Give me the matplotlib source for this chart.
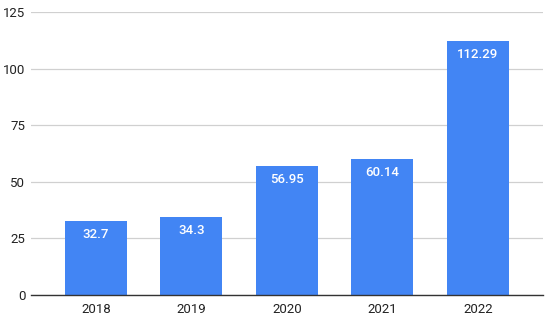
import matplotlib.pyplot as plt

plt.rcParams['font.family'] = ['Roboto', 'DejaVu Sans']

# data
years = ['2018', '2019', '2020', '2021', '2022']
values = [32.7, 34.3, 56.95, 60.14, 112.29]
labels = ['32.7', '34.3', '56.95', '60.14', '112.29']
yticks = [0, 25, 50, 75, 100, 125]

fig = plt.figure(figsize=(5.5, 3.2), dpi=100)
ax = fig.add_axes([0.0564, 0.078, 0.9306, 0.8845])

x = range(len(years))
bars = ax.bar(x, values, width=0.65, color='#4285F4', zorder=3)

for b, lab in zip(bars, labels):
    ax.annotate(lab, (b.get_x() + b.get_width() / 2, b.get_height()),
                xytext=(0, -5), textcoords='offset points',
                ha='center', va='top', color='white', fontsize=9.5,
                fontweight='medium')

ax.set_xlim(-0.68, 4.68)
ax.set_ylim(0, 125)
ax.set_xticks(list(x))
ax.set_xticklabels(years)
ax.set_yticks(yticks)

ax.grid(axis='y', color='#d0d0d0', linewidth=0.9, zorder=0)
for s in ['top', 'right', 'left']:
    ax.spines[s].set_visible(False)
ax.spines['bottom'].set_color('#333333')
ax.spines['bottom'].set_linewidth(1.0)
ax.spines['bottom'].set_zorder(4)
ax.tick_params(axis='both', length=0, labelsize=9.5, colors='#222222')
ax.tick_params(axis='x', pad=6)
ax.tick_params(axis='y', pad=4)

fig.savefig('out.png', dpi=100)
